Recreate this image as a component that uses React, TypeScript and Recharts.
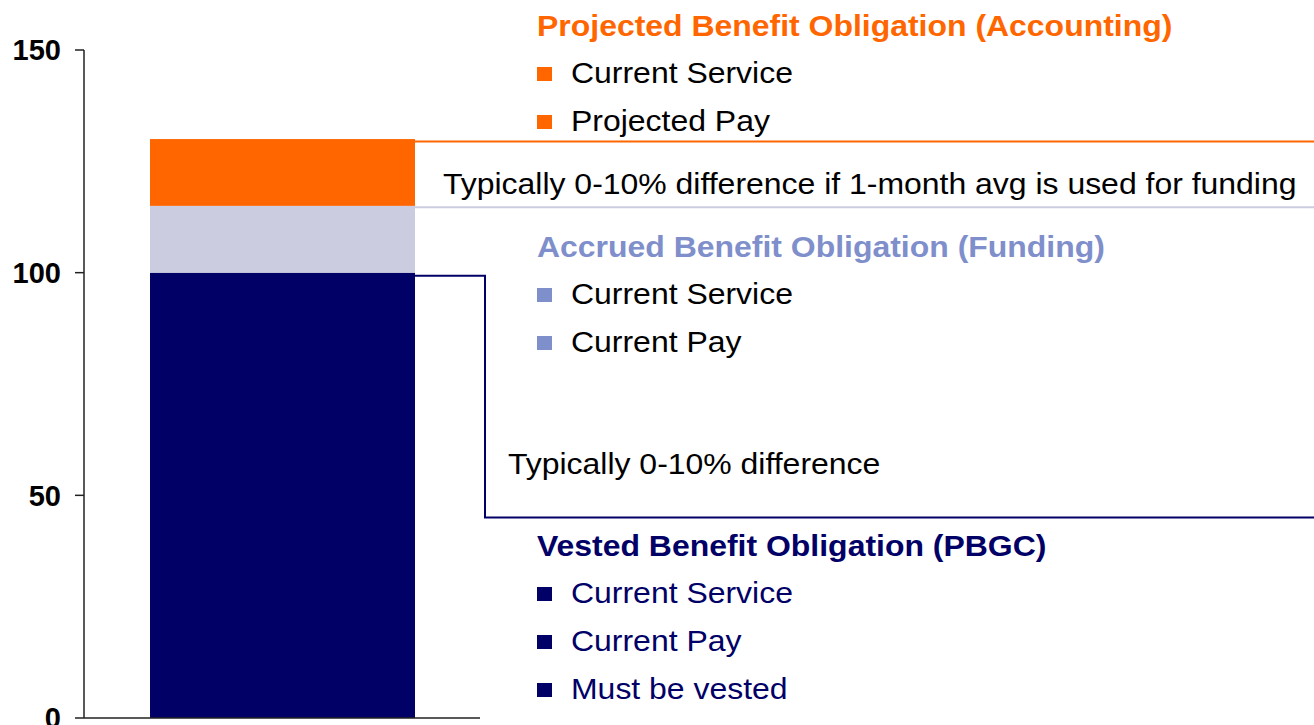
import React from "react";
import { BarChart, Bar, XAxis, YAxis, Customized } from "recharts";

// values
const categories = ["Obligation"];
const vestedValues = [100];
const accruedExtraValues = [15];
const projectedExtraValues = [15];
const yTicks = [0, 50, 100, 150];

const pboTitle = "Projected Benefit Obligation (Accounting)";
const pboItems = ["Current Service", "Projected Pay"];
const aboTitle = "Accrued Benefit Obligation (Funding)";
const aboItems = ["Current Service", "Current Pay"];
const vboTitle = "Vested Benefit Obligation (PBGC)";
const vboItems = ["Current Service", "Current Pay", "Must be vested"];
const noteTop = "Typically 0-10% difference if 1-month avg is used for funding";
const noteMid = "Typically 0-10% difference";

const chartData = categories.map((name, i) => ({
  name,
  vested: vestedValues[i],
  accrued: accruedExtraValues[i],
  projected: projectedExtraValues[i],
}));

const W = 1314;
const H = 725;
const FONT = "'Liberation Sans', Arial, sans-serif";
const ORANGE = "#FF6600";
const LAVENDER = "#CCCCE0";
const NAVY = "#000066";
const ABO_BLUE = "#7F8FCB";
const AXIS = "#222";
const STEP_LEVEL = 45; // where the navy bracket drops to
const SX = 1.065; // the source text is a little wider than Liberation Sans

const ProjectedShape = (props: any) => {
  const { x, y, width, height, fill } = props;
  return (
    <g>
      <rect x={x} y={y} width={width} height={height} fill={fill} />
      <line x1={x + width} y1={y + 2.5} x2={W} y2={y + 2.5} stroke={ORANGE} strokeWidth={2} />
    </g>
  );
};

const AccruedShape = (props: any) => {
  const { x, y, width, height, fill } = props;
  return (
    <g>
      <rect x={x} y={y} width={width} height={height} fill={fill} />
      <line x1={x + width} y1={y + 1.5} x2={W} y2={y + 1.5} stroke={LAVENDER} strokeWidth={2} />
    </g>
  );
};

const VestedShape = (props: any) => {
  const { x, y, width, height, fill, value } = props;
  const v = Array.isArray(value) ? value[1] - value[0] : value;
  const stepY = y + height * (1 - STEP_LEVEL / v);
  const right = x + width;
  return (
    <g>
      <rect x={x} y={y} width={width} height={height} fill={fill} />
      <path
        d={`M${right},${y + 3} H${right + 70} V${stepY} H${W}`}
        fill="none"
        stroke={NAVY}
        strokeWidth={2}
      />
    </g>
  );
};

// category ticks sit between categories, like the original (Excel style)
const CategoryEdgeTick = (props: any) => {
  const { x, y, width } = props;
  const edge = x + width / (2 * categories.length);
  return <line x1={edge} y1={y} x2={edge} y2={y + 8} stroke={AXIS} strokeWidth={1.5} />;
};

const Txt = ({ x, y, bold, color, children }: any) => (
  <text
    transform={`translate(${x},${y}) scale(${SX},1)`}
    fontSize={30}
    fontFamily={FONT}
    fontWeight={bold ? "bold" : "normal"}
    fill={color}
  >
    {children}
  </text>
);

const Group = ({
  title,
  items,
  titleColor,
  bulletColor,
  textColor,
  y0,
}: {
  title: string;
  items: string[];
  titleColor: string;
  bulletColor: string;
  textColor: string;
  y0: number;
}) => (
  <g>
    <Txt x={537} y={y0} bold color={titleColor}>
      {title}
    </Txt>
    {items.map((it, i) => {
      const by = y0 + 47 + i * 48;
      return (
        <g key={i}>
          <rect x={537} y={by - 16} width={15} height={14} fill={bulletColor} />
          <Txt x={571} y={by} color={textColor}>
            {it}
          </Txt>
        </g>
      );
    })}
  </g>
);

const Annotations = () => (
  <g>
    <Group title={pboTitle} items={pboItems} titleColor={ORANGE} bulletColor={ORANGE} textColor="#000" y0={36} />
    <Group title={aboTitle} items={aboItems} titleColor={ABO_BLUE} bulletColor={ABO_BLUE} textColor="#000" y0={257} />
    <Group title={vboTitle} items={vboItems} titleColor={NAVY} bulletColor={NAVY} textColor={NAVY} y0={556} />
    <Txt x={443} y={194} color="#000">
      {noteTop}
    </Txt>
    <Txt x={508} y={474} color="#000">
      {noteMid}
    </Txt>
  </g>
);

export default function App() {
  return (
    <div style={{ position: "absolute", left: 0, top: 0, width: W, height: H, background: "#fff" }}>
      <BarChart
        width={W}
        height={H}
        data={chartData}
        margin={{ top: 50, right: W - 480, bottom: 0, left: 0 }}
      >
        <XAxis
          dataKey="name"
          tick={<CategoryEdgeTick />}
          height={7}
          axisLine={{ stroke: AXIS, strokeWidth: 1.5 }}
          tickLine={false}
        />
        <YAxis
          width={84}
          domain={[0, 150]}
          ticks={yTicks}
          interval={0}
          tickSize={9}
          tickMargin={14}
          axisLine={{ stroke: AXIS, strokeWidth: 1.5 }}
          tickLine={{ stroke: AXIS, strokeWidth: 1.5 }}
          tick={{ fontSize: 29, fontWeight: "bold", fill: "#000", fontFamily: FONT }}
        />
        <Bar dataKey="vested" stackId="a" fill={NAVY} barSize={265} shape={VestedShape} isAnimationActive={false} />
        <Bar dataKey="accrued" stackId="a" fill={LAVENDER} barSize={265} shape={AccruedShape} isAnimationActive={false} />
        <Bar dataKey="projected" stackId="a" fill={ORANGE} barSize={265} shape={ProjectedShape} isAnimationActive={false} />
        <Customized component={<Annotations />} />
      </BarChart>
    </div>
  );
}
